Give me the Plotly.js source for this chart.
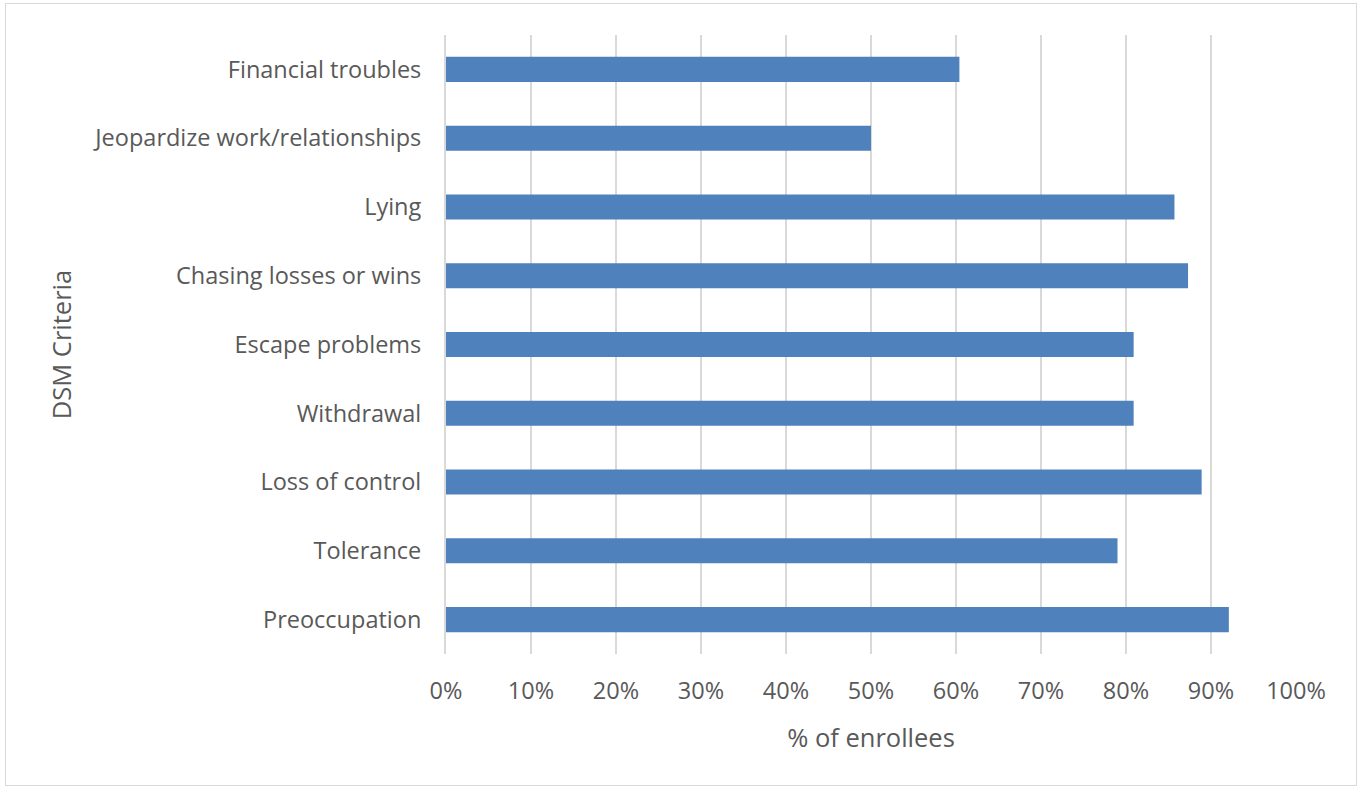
<!DOCTYPE html>
<html>
<head>
<meta charset="utf-8">
<script src="https://cdn.plot.ly/plotly-3.0.1.min.js"></script>
<style>
  html, body { margin: 0; padding: 0; background: #fff; }
  #wrap { position: relative; width: 1360px; height: 788px; }
  #chart { position: absolute; left: 0; top: 0; width: 1360px; height: 788px; }
  #frame { position: absolute; left: 5px; top: 3px; width: 1350px; height: 781px; border: 1px solid #d9d9d9; pointer-events: none; }
</style>
</head>
<body>
<div id="wrap"><div id="chart"></div><div id="frame"></div></div>
<script>
const categories = [
  "Preoccupation",
  "Tolerance",
  "Loss of control",
  "Withdrawal",
  "Escape problems",
  "Chasing losses or wins",
  "Lying",
  "Jeopardize work/relationships",
  "Financial troubles"
];
const percentEnrollees = [0.921, 0.790, 0.889, 0.809, 0.809, 0.873, 0.857, 0.500, 0.604];
const tickValues = [0, 0.1, 0.2, 0.3, 0.4, 0.5, 0.6, 0.7, 0.8, 0.9, 1.0];
const tickLabels = ["0%", "10%", "20%", "30%", "40%", "50%", "60%", "70%", "80%", "90%", "100%"];

const fontFam = "Open Sans, Liberation Sans, sans-serif";
const txt = "#595959";

Plotly.newPlot("chart", [{
  type: "bar",
  orientation: "h",
  y: categories,
  x: percentEnrollees,
  marker: { color: "#4f81bd" },
  hoverinfo: "x+y"
}], {
  width: 1360, height: 788,
  margin: { l: 446, r: 64, t: 35, b: 134 },
  paper_bgcolor: "rgba(0,0,0,0)",
  plot_bgcolor: "#fff",
  bargap: 0.636,
  showlegend: false,
  font: { family: fontFam, color: txt, size: 23.5 },
  xaxis: {
    range: [0, 1],
    tickvals: tickValues,
    ticktext: tickLabels,
    showgrid: true,
    gridcolor: "#d9d9d9",
    gridwidth: 2,
    zeroline: false,
    showline: false,
    ticks: "",
    ticklabelstandoff: 20,
    tickfont: { family: fontFam, color: txt, size: 23.5 },
    title: { text: "% of enrollees", font: { family: fontFam, color: txt, size: 25.5 }, standoff: 24 }
  },
  yaxis: {
    type: "category",
    categoryorder: "array",
    categoryarray: categories,
    showgrid: false,
    showline: true,
    linecolor: "#d9d9d9",
    linewidth: 2,
    ticks: "",
    ticklabelstandoff: 18,
    tickfont: { family: fontFam, color: txt, size: 23.5 },
    title: { text: "DSM Criteria", font: { family: fontFam, color: txt, size: 25.5 }, standoff: 14 }
  }
}, { displayModeBar: false, staticPlot: true });
</script>
</body>
</html>
